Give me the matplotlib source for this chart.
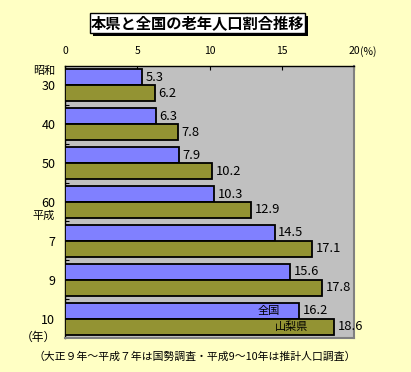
import matplotlib
matplotlib.use("Agg")
import matplotlib.pyplot as plt
from matplotlib.patches import Rectangle
import numpy as np

plt.rcParams['font.family'] = ['Noto Sans CJK JP', 'DejaVu Sans']

categories = ["30", "40", "50", "60", "7", "9", "10"]
national = [5.3, 6.3, 7.9, 10.3, 14.5, 15.6, 16.2]
yamanashi = [6.2, 7.8, 10.2, 12.9, 17.1, 17.8, 18.6]
xticks = [0, 5, 10, 15, 20]
title = "本県と全国の老年人口割合推移"
footnote = "（大正９年～平成７年は国勢調査・平成9～10年は推計人口調査）"

W, H = 411, 372
BG = "#FFFFC4"
fig = plt.figure(figsize=(W / 100, H / 100), dpi=100, facecolor=BG)

def fx(px):
    return px / W

def fy(py):
    return 1 - py / H

# Plot area
left, right, top, bottom = 65, 354, 66, 338
ax = fig.add_axes([fx(left), fy(bottom), (right - left) / W, (bottom - top) / H])
ax.set_facecolor("#C0C0C0")

y = np.arange(len(categories))
bh = 0.41
ax.barh(y - 0.205, national, height=bh, color="#8080FF", edgecolor="black", linewidth=1.3, zorder=3)
ax.barh(y + 0.205, yamanashi, height=bh, color="#939333", edgecolor="black", linewidth=1.3, zorder=3)

for i, (a, b) in enumerate(zip(national, yamanashi)):
    ax.text(a + 0.25, i - 0.205, f"{a}", va="center", ha="left", fontsize=9.3, zorder=4)
    ax.text(b + 0.25, i + 0.205, f"{b}", va="center", ha="left", fontsize=9.3, zorder=4)

# series labels inside last bars
ax.text(national[-1] - 1.3, len(categories) - 1 - 0.205, "全国", va="center", ha="right", fontsize=8, zorder=4)
ax.text(yamanashi[-1] - 1.8, len(categories) - 1 + 0.205, "山梨県", va="center", ha="right", fontsize=8, zorder=4)

ax.set_xlim(0, 20)
ax.set_ylim(len(categories) - 0.5, -0.5)

ax.xaxis.tick_top()
ax.set_xticks(xticks)
ax.set_xticklabels([str(t) for t in xticks], fontsize=7.5)
ax.tick_params(axis="x", direction="in", length=3, width=0.8, pad=7, top=True, bottom=False)

ax.set_yticks(y)
ax.set_yticklabels(categories, fontsize=9)
ax.set_yticks(np.arange(len(categories) - 1) + 0.5, minor=True)
ax.tick_params(axis="y", which="major", length=0, pad=7)
ax.tick_params(axis="y", which="minor", direction="in", length=3, width=0.8)

for s in ["left", "top"]:
    ax.spines[s].set_color("black")
    ax.spines[s].set_linewidth(1.0)
for s in ["right", "bottom"]:
    ax.spines[s].set_color("#808080")
    ax.spines[s].set_linewidth(1.5)

# "(%)" after the last tick label
fig.text(fx(360), fy(52), "(%)", ha="left", va="center", fontsize=7.5)

# Extra y labels
fig.text(fx(55), fy(71), "昭和", ha="right", va="center", fontsize=8)
fig.text(fx(55), fy(216), "平成", ha="right", va="center", fontsize=8)
fig.text(fx(56), fy(337), "（年）", ha="right", va="center", fontsize=8.5)

# Title box with shadow
fig.patches.append(Rectangle((fx(93), fy(36)), (305 - 90) / W, (33 - 13) / H,
                             transform=fig.transFigure, facecolor="black", edgecolor="none", zorder=1))
fig.patches.append(Rectangle((fx(90), fy(33)), (305 - 90) / W, (33 - 13) / H,
                             transform=fig.transFigure, facecolor="white", edgecolor="black", linewidth=1, zorder=2))
fig.text(fx(197.5), fy(23), title, ha="center", va="center", fontsize=11, fontweight="bold", zorder=3)

fig.text(fx(195), fy(357), footnote, ha="center", va="center", fontsize=7.8)

fig.savefig("out.png", dpi=100, facecolor=BG)
